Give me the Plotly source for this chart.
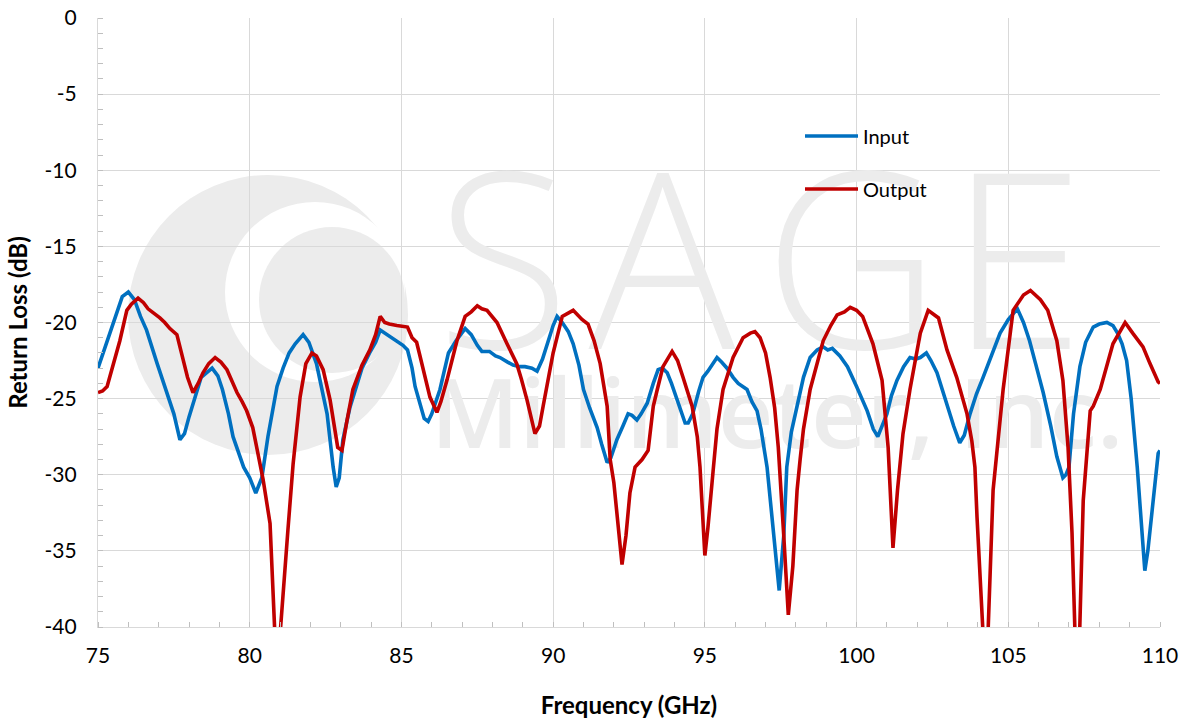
import plotly.graph_objects as go

# ---------------- data ----------------
input_freq = [75.0, 75.3, 75.6, 75.8, 76.0, 76.2, 76.4, 76.6, 76.95, 77.2, 77.5, 77.7, 77.85, 78.0, 78.2, 78.4,
              78.76, 78.95, 79.1, 79.3, 79.45, 79.6, 79.8, 80.0, 80.2, 80.4, 80.6, 80.9, 81.1, 81.3, 81.5, 81.76,
              81.95, 82.2, 82.4, 82.55, 82.75, 82.85, 82.95, 83.07, 83.3, 83.5, 83.7, 83.95, 84.15, 84.3, 84.6,
              84.85, 85.05, 85.2, 85.35, 85.45, 85.6, 85.75, 85.88, 86.0, 86.27, 86.55, 86.8, 87.1, 87.3, 87.5,
              87.65, 87.9, 88.1, 88.25, 88.5, 88.68, 88.9, 89.07, 89.3, 89.47, 89.65, 89.8, 90.0, 90.13, 90.3,
              90.5, 90.66, 90.85, 91.0, 91.2, 91.45, 91.6, 91.78, 91.9, 92.1, 92.3, 92.47, 92.6, 92.76, 92.9,
              93.1, 93.3, 93.46, 93.6, 93.76, 93.9, 94.08, 94.2, 94.35, 94.45, 94.6, 94.8, 94.94, 95.1, 95.4,
              95.55, 95.73, 95.93, 96.1, 96.39, 96.55, 96.72, 96.85, 97.05, 97.25, 97.45, 97.6, 97.7, 97.85,
              98.04, 98.25, 98.47, 98.7, 98.9, 99.05, 99.2, 99.45, 99.7, 99.85, 100.0, 100.35, 100.55, 100.7,
              100.85, 101.0, 101.15, 101.33, 101.55, 101.76, 101.95, 102.1, 102.3, 102.45, 102.65, 102.8,
              102.98, 103.2, 103.4, 103.55, 103.74, 103.95, 104.17, 104.45, 104.73, 105.0, 105.3, 105.5,
              105.7, 105.9, 106.15, 106.4, 106.6, 106.8, 106.9, 107.0, 107.15, 107.36, 107.55, 107.8, 108.0,
              108.25, 108.45, 108.6, 108.75, 108.9, 109.05, 109.25, 109.4, 109.5, 109.6, 109.75, 109.94, 110.0]
input_rl = [-23.0, -21.3, -19.5, -18.3, -18.0, -18.5, -19.6, -20.5, -22.7, -24.2, -26.0, -27.7, -27.3, -26.2,
            -24.8, -23.6, -23.0, -23.5, -24.4, -26.0, -27.5, -28.3, -29.5, -30.2, -31.2, -30.2, -27.5, -24.2,
            -23.0, -22.0, -21.4, -20.8, -21.3, -22.7, -24.5, -26.0, -29.5, -30.8, -30.2, -27.7, -25.6, -24.2,
            -23.0, -22.0, -21.3, -20.5, -20.9, -21.3, -21.5, -21.8, -23.0, -24.2, -25.2, -26.3, -26.5, -26.0,
            -24.4, -22.0, -21.2, -20.4, -20.8, -21.5, -21.9, -21.9, -22.2, -22.3, -22.6, -22.8, -22.9, -22.9,
            -23.0, -23.2, -22.4, -21.4, -20.2, -19.6, -20.0, -20.6, -21.4, -22.8, -24.4, -25.6, -26.9, -28.0,
            -29.2, -28.9, -27.7, -26.8, -26.0, -26.1, -26.4, -26.0, -25.3, -24.0, -23.1, -23.0, -23.3, -24.0,
            -25.1, -25.8, -26.6, -26.6, -26.0, -24.5, -23.6, -23.2, -22.3, -22.6, -23.0, -23.6, -24.0, -24.4,
            -25.2, -25.8, -27.0, -29.5, -33.5, -37.6, -34.0, -29.5, -27.2, -25.5, -23.6, -22.3, -21.8, -21.6,
            -21.8, -21.7, -22.2, -22.9, -23.5, -24.2, -25.8, -27.0, -27.5, -26.8, -26.0, -24.8, -23.8, -22.9,
            -22.3, -22.4, -22.3, -22.0, -22.5, -23.3, -24.3, -25.5, -26.8, -27.9, -27.4, -26.0, -24.7, -23.6,
            -22.1, -20.7, -19.8, -19.1, -20.0, -21.2, -22.7, -24.6, -26.8, -28.8, -30.2, -30.0, -29.5, -26.0,
            -22.9, -21.3, -20.3, -20.1, -20.0, -20.2, -20.7, -21.4, -22.5, -25.0, -29.5, -34.0, -36.3, -35.0,
            -32.0, -28.6, -28.4]

output_freq = [75.0, 75.15, 75.3, 75.5, 75.72, 75.95, 76.1, 76.32, 76.5, 76.65, 76.85, 77.04, 77.2, 77.37,
               77.6, 77.7, 77.8, 77.95, 78.13, 78.3, 78.46, 78.65, 78.86, 79.05, 79.25, 79.4, 79.58, 79.75,
               79.9, 80.1, 80.24, 80.44, 80.67, 80.83, 80.93, 81.0, 81.26, 81.43, 81.66, 81.85, 82.05, 82.2,
               82.42, 82.65, 82.9, 83.04, 83.2, 83.4, 83.7, 83.96, 84.15, 84.3, 84.45, 84.6, 84.85, 85.1,
               85.2, 85.35, 85.5, 85.6, 85.7, 85.94, 86.17, 86.3, 86.5, 86.83, 87.1, 87.3, 87.5, 87.65,
               87.82, 88.15, 88.48, 88.8, 88.95, 89.14, 89.4, 89.55, 89.67, 90.0, 90.3, 90.66, 90.95, 91.15,
               91.35, 91.55, 91.78, 91.88, 92.0, 92.27, 92.4, 92.53, 92.7, 92.93, 93.13, 93.3, 93.42, 93.62,
               93.92, 94.1, 94.28, 94.58, 94.75, 94.84, 95.0, 95.1, 95.27, 95.4, 95.6, 95.93, 96.26, 96.5,
               96.65, 96.82, 97.0, 97.15, 97.3, 97.42, 97.6, 97.75, 97.9, 98.04, 98.14, 98.25, 98.47, 98.9,
               99.15, 99.36, 99.6, 99.79, 100.0, 100.2, 100.54, 100.84, 101.04, 101.2, 101.35, 101.53,
               101.76, 102.1, 102.36, 102.7, 102.98, 103.3, 103.64, 103.8, 103.9, 103.97, 104.17, 104.25,
               104.33, 104.5, 104.63, 104.83, 105.16, 105.5, 105.73, 106.06, 106.3, 106.6, 106.8, 106.97,
               107.1, 107.2, 107.28, 107.35, 107.47, 107.7, 107.8, 108.03, 108.45, 108.85, 109.1, 109.44,
               109.67, 109.94, 110.0]
output_rl = [-24.6, -24.5, -24.2, -22.8, -21.2, -19.2, -18.8, -18.4, -18.7, -19.1, -19.4, -19.7, -20.0, -20.4,
             -20.8, -21.6, -22.5, -23.6, -24.6, -24.0, -23.3, -22.7, -22.3, -22.6, -23.1, -23.8, -24.6, -25.2,
             -25.8, -26.9, -28.4, -30.3, -33.2, -40.5, -41.5, -40.5, -33.6, -29.3, -24.9, -22.7, -22.0, -22.2,
             -23.1, -25.1, -28.2, -28.4, -26.5, -24.4, -22.8, -21.8, -20.8, -19.6, -20.0, -20.1, -20.2, -20.3,
             -20.3, -21.0, -21.3, -22.1, -22.9, -24.9, -25.9, -25.2, -23.8, -21.2, -19.6, -19.3, -18.9, -19.1,
             -19.2, -20.0, -21.4, -22.7, -23.7, -25.1, -27.3, -26.8, -25.5, -22.0, -19.6, -19.2, -19.8, -20.1,
             -21.2, -22.7, -25.5, -29.0, -30.5, -35.9, -34.0, -31.2, -29.5, -29.0, -28.4, -25.5, -24.5, -22.9,
             -21.9, -22.5, -23.6, -25.5, -27.5, -29.5, -35.3, -33.5, -29.8, -27.0, -24.4, -22.3, -21.0, -20.7,
             -20.6, -21.0, -22.0, -23.6, -25.6, -28.2, -34.0, -39.2, -36.0, -31.0, -29.0, -27.0, -24.4, -21.2,
             -20.2, -19.5, -19.3, -19.0, -19.2, -19.6, -21.4, -23.8, -28.2, -34.8, -31.0, -27.3,
             -24.4, -20.7, -19.2, -19.7, -21.8, -23.6, -26.0, -27.8, -29.5, -32.8, -40.5, -42.0,
             -40.5, -31.0, -28.4, -24.4, -19.2, -18.2, -17.9, -18.5, -19.2, -21.2, -23.8, -28.2,
             -33.8, -40.5, -42.0, -40.5, -31.7, -25.8, -25.5, -24.4, -21.4, -20.0, -20.7, -21.6,
             -22.7, -23.9, -24.0]

x_ticks = [75, 80, 85, 90, 95, 100, 105, 110]
y_ticks = [0, -5, -10, -15, -20, -25, -30, -35, -40]
series_names = ["Input", "Output"]
series_colors = ["#0070C0", "#C00000"]

FONT = "Lato, 'Open Sans', Arial, sans-serif"
WM = "#ececec"

# geometry (the page body margin is removed below, so page px == figure px)
W, H = 1182, 721
PL, PR, PT, PB = 98, 1160, 18, 627          # plot area in page pixels
ML, MR, MT, MB = PL, W - PR, PT, H - PB
X0, X1, Y0, Y1 = 75, 110, -40, 0


def dx(px):
    return X0 + (px - PL) * (X1 - X0) / (PR - PL)


def dy(py):
    return Y1 - (py - PT) * (Y1 - Y0) / (PB - PT)


fig = go.Figure()

# watermark (company logo text), drawn under the data lines
wm_letters = ["S", "A", "G", "E"]
wm_letter_px = [503, 662, 852, 1017]
fig.add_trace(go.Scatter(
    x=[dx(p) for p in wm_letter_px], y=[dy(288)] * 4, mode="text", text=wm_letters,
    textfont=dict(family="'Open Sans', sans-serif", size=245, color=WM, weight=300),
    textposition="middle center", hoverinfo="skip", showlegend=False, cliponaxis=False))
fig.add_trace(go.Scatter(
    x=[dx(777)], y=[dy(424)], mode="text", text=["Millimeter, Inc."],
    textfont=dict(family="'Open Sans', sans-serif", size=96, color=WM, weight=600),
    textposition="middle center", hoverinfo="skip", showlegend=False, cliponaxis=False))

for name, xs, ys, col in [(series_names[0], input_freq, input_rl, series_colors[0]),
                          (series_names[1], output_freq, output_rl, series_colors[1])]:
    fig.add_trace(go.Scatter(x=xs, y=ys, mode="lines", name=name,
                             line=dict(color=col, width=3.6), showlegend=False))


# watermark logo circles
def circ(cx, cy, r, color):
    fig.add_shape(type="circle", xref="x", yref="y", x0=dx(cx - r), x1=dx(cx + r),
                  y0=dy(cy + r), y1=dy(cy - r), fillcolor=color, line=dict(width=0), layer="below")


circ(268, 315, 140, WM)
circ(315, 292, 90, "white")
circ(332, 300, 73, WM)

# legend drawn manually (line sample + label)
leg_py = [136, 189]
for i, name in enumerate(series_names):
    fig.add_shape(type="line", xref="x", yref="y", x0=dx(805), x1=dx(858),
                  y0=dy(leg_py[i]), y1=dy(leg_py[i]),
                  line=dict(color=series_colors[i], width=3.6))
    fig.add_annotation(xref="x", yref="y", x=dx(861), y=dy(leg_py[i]), text=name, showarrow=False,
                       xanchor="left", yanchor="middle", font=dict(family=FONT, size=20, color="#000000"))

fig.update_layout(
    width=W, height=H,
    margin=dict(l=ML, r=MR, t=MT, b=MB, autoexpand=False),
    paper_bgcolor="white", plot_bgcolor="white",
    font=dict(family=FONT, size=21, color="#000000"),
    showlegend=False,
)
fig.update_xaxes(
    range=[X0, X1], tickvals=x_ticks, ticktext=[str(v) for v in x_ticks],
    showgrid=True, gridcolor="#d9d9d9", gridwidth=1.3,
    showline=True, linecolor="#d9d9d9", linewidth=1.3, zeroline=False,
    ticks="", ticklabelstandoff=10, ticklabeloverflow="allow",
    minor=dict(dtick=1, ticks="inside", ticklen=5, tickcolor="#bfbfbf", showgrid=False),
    title=dict(text="<b>Frequency (GHz)</b>", font=dict(size=24), standoff=30),
)
fig.update_yaxes(
    range=[Y0, Y1], tickvals=y_ticks, ticktext=[str(v) for v in y_ticks],
    showgrid=True, gridcolor="#d9d9d9", gridwidth=1.3,
    showline=True, linecolor="#d9d9d9", linewidth=1.3, zeroline=False,
    ticks="", ticklabelstandoff=16, ticklabeloverflow="allow",
    minor=dict(dtick=1, ticks="inside", ticklen=5, tickcolor="#bfbfbf", showgrid=False),
    title=dict(text="<b>Return Loss (dB)</b>", font=dict(size=24), standoff=10),
)

fig.write_html("out.html", config={"displayModeBar": False},
               post_script="document.body.style.margin='0';document.body.style.overflow='hidden';")
